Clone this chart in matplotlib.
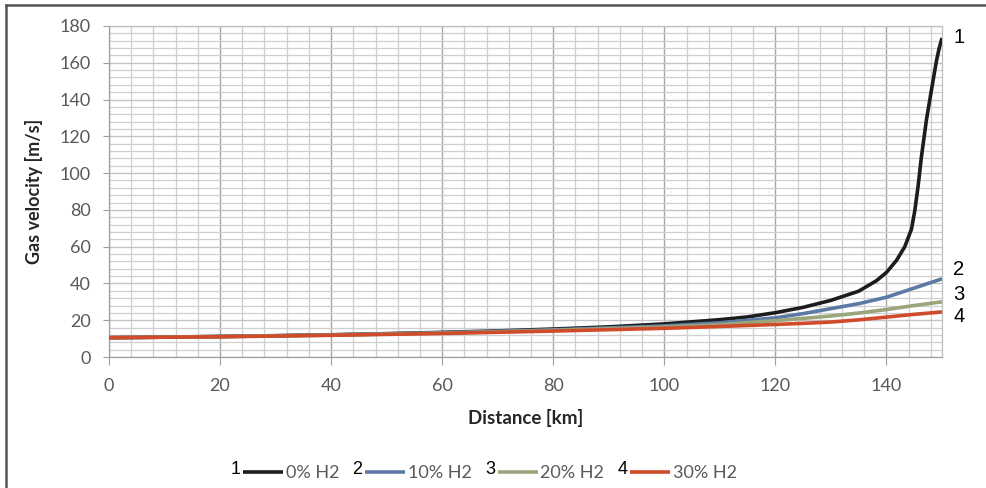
import numpy as np
import matplotlib.pyplot as plt
from matplotlib.lines import Line2D
from matplotlib.ticker import MultipleLocator

# distance along the pipeline [km] and gas velocity [m/s] for each H2 share
x_black = [0, 10, 20, 30, 40, 50, 60, 70, 80, 90, 100, 110, 115, 120, 125, 130,
           135, 138.2, 140, 141.8, 143.3, 144.5, 145.1, 145.7, 146.3, 147.2,
           148.2, 149, 149.5, 150]
v_0 = [10.5, 10.8, 11.2, 11.6, 12.1, 12.7, 13.4, 14.2, 15.2, 16.4, 18.0, 20.3,
       21.8, 24.1, 27.0, 30.8, 35.8, 41.5, 46.0, 52.5, 60.0, 69.5, 79.5, 93.0,
       109.0, 129.0, 147.0, 161.0, 168.0, 173.5]

x_other = [0, 20, 40, 60, 80, 100, 110, 120, 125, 130, 135, 140, 145, 150]
v_10 = [10.5, 11.1, 12.0, 13.2, 14.8, 16.9, 18.6, 21.3, 23.6, 26.3, 29.0, 32.5, 37.5, 42.5]
v_20 = [10.5, 11.1, 11.9, 13.0, 14.5, 16.3, 17.6, 19.8, 21.0, 22.3, 23.9, 25.8, 28.0, 30.0]
v_30 = [10.5, 11.0, 11.8, 12.8, 14.1, 15.6, 16.6, 17.7, 18.3, 19.0, 20.2, 21.7, 23.2, 24.5]

labels = ['0% H2', '10% H2', '20% H2', '30% H2']
numbers = ['1', '2', '3', '4']
colors = ['#1c1c1c', '#5b79a5', '#9aa57c', '#cf4b2a']

plt.rcParams['font.family'] = ['Lato', 'DejaVu Sans']

fig = plt.figure(figsize=(9.86, 4.88), dpi=100)
ax = fig.add_axes([109/986, 1 - 357/488, (942 - 109)/986, (357 - 26)/488])

series = [(x_black, v_0), (x_other, v_10), (x_other, v_20), (x_other, v_30)]
lines = []
for (xs, ys), lab, col in zip(series, labels, colors):
    ln, = ax.plot(xs, ys, color=col, lw=2.6, label=lab, solid_joinstyle='round',
                  solid_capstyle='butt', zorder=3)
    lines.append(ln)

ax.set_xlim(0, 150)
ax.set_ylim(0, 180)
ax.xaxis.set_major_locator(MultipleLocator(20))
ax.xaxis.set_minor_locator(MultipleLocator(4))
ax.yaxis.set_major_locator(MultipleLocator(20))
ax.yaxis.set_minor_locator(MultipleLocator(4))

ax.grid(which='minor', color='#cfcfcf', lw=0.9)
ax.grid(which='major', axis='x', color='#a6a6a6', lw=1.0)
ax.grid(which='major', axis='y', color='#c4c4c4', lw=1.0)
ax.set_axisbelow(True)

for s in ax.spines.values():
    s.set_color('#bfbfbf')
    s.set_linewidth(0.9)
ax.spines['left'].set_color('#a0a0a0')
ax.spines['bottom'].set_color('#a0a0a0')

ax.tick_params(axis='y', which='major', length=4, color='#a0a0a0', pad=9,
               labelsize=13, labelcolor='#595959')
ax.tick_params(axis='x', which='major', length=6, color='#a0a0a0', pad=9,
               labelsize=13, labelcolor='#595959')
ax.tick_params(which='minor', length=0)

ax.set_ylabel('Gas velocity [m/s]', fontsize=13, fontweight='bold', color='#262626', labelpad=12)
ax.set_xlabel('Distance [km]', fontsize=13.5, fontweight='bold', color='#262626', labelpad=11)

# curve numbers at the right-hand end of each line
end_y = [v_0[-1], v_10[-1], v_20[-1], v_30[-1]]
offsets = [0, 6.5, 5, -3]
for num, yv, dy in zip(numbers, end_y, offsets):
    ax.annotate(num, xy=(150, yv), xytext=(8, dy), textcoords='offset points',
                fontsize=14.5, family='Liberation Sans', va='center', ha='left',
                annotation_clip=False)

leg = fig.legend(handles=lines, loc='center', bbox_to_anchor=(0.497, 1 - 473/488),
                 ncol=4, frameon=False, fontsize=13, labelcolor='#595959',
                 handlelength=2.2, handletextpad=0.15, columnspacing=1.45)

fig.canvas.draw()
inv = fig.transFigure.inverted()
for h, num in zip(leg.legend_handles, numbers):
    bb = h.get_window_extent(fig.canvas.get_renderer())
    fx, fy = inv.transform((bb.x0 - 3, (bb.y0 + bb.y1) / 2))
    fig.text(fx, fy + 0.004, num, ha='right', va='center', fontsize=13,
             family='Liberation Sans', color='black')

# outer frame on the top and left edges
fig.add_artist(Line2D([6/986, 6/986], [0, 1 - 5/488], transform=fig.transFigure,
                      color='#555555', lw=1.8))
fig.add_artist(Line2D([6/986, 1], [1 - 5/488, 1 - 5/488], transform=fig.transFigure,
                      color='#555555', lw=1.8))

fig.savefig('out.png', dpi=100)
